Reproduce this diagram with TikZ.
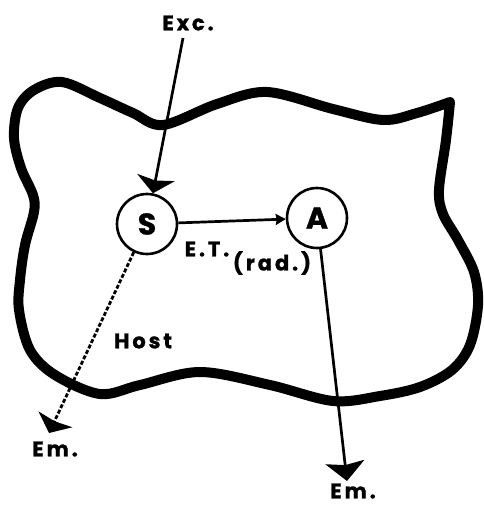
\documentclass[tikz,border=0pt]{standalone}
\usepackage{fontspec}
\usetikzlibrary{arrows.meta}
\newfontfamily\labfont{Poppins}[LetterSpace=14, FakeBold=1.2]
\newfontfamily\circfont{Poppins}[FakeBold=1]
\begin{document}
\begin{tikzpicture}[x=1pt,y=-1pt,
  lab/.style={font=\labfont\bfseries\fontsize{21}{22}\selectfont, inner sep=0pt},
  atom/.style={circle, draw, line width=2.6pt, minimum size=60pt, inner sep=0pt,
    font=\circfont\bfseries\fontsize{30}{31}\selectfont},
  thinline/.style={line width=2.7pt},
  dotline/.style={line width=2.8pt, dash pattern=on 4pt off 2pt},
  hostline/.style={line width=10pt, line join=round, line cap=round}]
\useasboundingbox (0,0) rectangle (483,506);
% host outline
\draw[hostline] plot[smooth, tension=0.55] coordinates {
  (450,102) (446,140) (439,190) (443,214) (458,240) (474,272) (478,305)
  (470,345) (452,370) (420,387) (380,396) (333,401) (270,385) (200,372)
  (140,385) (100,394) (55,375) (30,350) (19,310) (20,280) (25,245)
  (34,212) (33,195) (21,168) (14,138) (18,108) (34,90) (62,82)
  (100,98) (133,113) (163,125) (217,104) (267,92) (333,109) (383,120)
  (417,113) (450,102)};
% nodes
\node[atom] (S) at (147,224) {S};
\node[atom] (A) at (317,218) {A};
\node[lab] (exc) at (188,23) {Exc.};
\node[lab] (et) at (207,249) {E.T.};
\node[lab] (rad) at (272,263) {(rad.)};
\node[lab] (host) at (143,341) {Host};
\node[lab] (em1) at (55,449) {Em.};
\node[lab] (em2) at (353,491) {Em.};
\coordinate (excstart) at (183,38);
\coordinate (emL) at (49,433);
\coordinate (emR) at (347,481);
% connectors
\draw[thinline, -{Stealth[length=16pt, width=38pt, inset=3pt]}] (excstart) -- (S);
\draw[thinline, -{Stealth[length=10pt, width=11pt, inset=1pt]}] (S) -- (A);
\draw[dotline, -{Stealth[length=15pt, width=37pt, inset=2pt]}] (S) -- (emL);
\draw[thinline, -{Stealth[length=19pt, width=39pt, inset=3pt]}] (A) -- (emR);
\end{tikzpicture}
\end{document}
